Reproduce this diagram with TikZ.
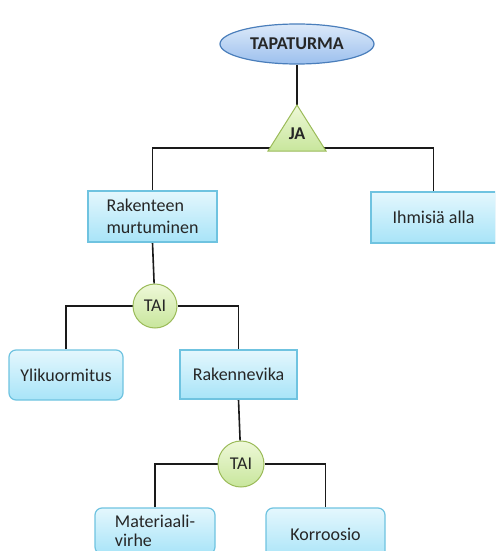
\documentclass[tikz,border=0pt]{standalone}
\usepackage{fontspec}
\setmainfont{Carlito}
\usetikzlibrary{shapes.geometric,backgrounds}
\definecolor{boxtop}{HTML}{E4F7FD}
\definecolor{boxbot}{HTML}{A8E4F8}
\definecolor{boxline}{HTML}{6FC3E0}
\definecolor{elltop}{HTML}{DCE9F9}
\definecolor{ellbot}{HTML}{9CC0EE}
\definecolor{ellline}{HTML}{4A7EBB}
\definecolor{gatetop}{HTML}{EEF8D8}
\definecolor{gatebot}{HTML}{C8E69C}
\definecolor{gateline}{HTML}{9BBB59}
\definecolor{linecol}{HTML}{1A1A1A}
\begin{document}
\begin{tikzpicture}[x=1pt,y=1pt,
  every node/.style={font=\fontsize{18}{22}\selectfont, text=black!85},
  boxsq/.style={draw=boxline, line width=1.2pt, top color=boxtop, bottom color=boxbot, inner sep=0pt, align=left},
  boxrd/.style={boxsq, rounded corners=7pt},
  conn/.style={draw=linecol, line width=1.6pt},
  gate/.style={circle, draw=gateline, line width=1pt, top color=gatetop, bottom color=gatebot, minimum size=44pt, inner sep=0pt}]
\useasboundingbox (0,0) rectangle (495,-551);
\clip (0,0) rectangle (495,-551);
% top event
\node[ellipse, draw=ellline, line width=1.2pt, top color=elltop, bottom color=ellbot,
      minimum width=154pt, minimum height=40pt, inner sep=0pt] (top) at (297,-44) {\textbf{TAPATURMA}};
% AND gate
\coordinate (jaapex) at (297,-105);
\coordinate (jabar) at (297,-148);
\draw[draw=gateline, line width=1pt, top color=gatetop, bottom color=gatebot]
  (297,-105) -- (326,-151) -- (268,-151) -- cycle;
\node (ja) at (297,-134) {\textbf{JA}};
% level 1
\node[boxsq, minimum width=129pt, minimum height=51pt] (rak) at (152.5,-216.5) {Rakenteen\\murtuminen};
\node[boxsq, minimum width=125pt, minimum height=51pt] (ihm) at (433.5,-217.5) {Ihmisiä alla};
% OR gate 1
\node[gate] (tai1) at (155,-306) {TAI};
% level 2
\node[boxrd, minimum width=114pt, minimum height=50pt] (ylik) at (66,-375) {Ylikuormitus};
\node[boxsq, minimum width=117pt, minimum height=49pt] (rakv) at (238.5,-374.5) {Rakennevika};
% OR gate 2
\node[gate, minimum size=46pt] (tai2) at (241,-464) {TAI};
% level 3
\node[boxrd, minimum width=120pt, minimum height=46pt, font=\fontsize{18}{19}\selectfont] (mat) at (155,-531) {Materiaali-\\virhe};
\node[boxrd, minimum width=119pt, minimum height=52pt] (kor) at (325.5,-534) {Korroosio};
\begin{pgfonlayer}{background}
\draw[conn] (top.south) -- (jaapex);
\draw[conn] (rak.north) |- (jabar) -| (ihm.north);
\draw[conn] (rak.south) -- (tai1);
\draw[conn] (ylik.north) |- (tai1) -| (rakv.north);
\draw[conn] (rakv.south) -- (tai2);
\draw[conn] (mat.north) |- (tai2) -| (kor.north);
\end{pgfonlayer}
\end{tikzpicture}
\end{document}
